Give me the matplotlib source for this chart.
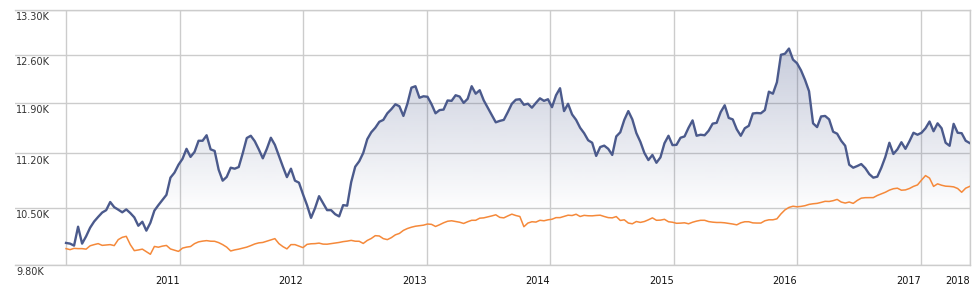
import numpy as np
import pandas as pd
import matplotlib
matplotlib.use("Agg")
import matplotlib.pyplot as plt
from matplotlib.ticker import NullLocator

# fund value (blue) and benchmark (orange)
fund = [10065, 10057, 10033, 10262, 10057, 10145, 10250, 10326, 10383, 10437,
        10467, 10569, 10504, 10473, 10440, 10476, 10431, 10377, 10274, 10323,
        10214, 10310, 10461, 10530, 10595, 10660, 10881, 10946, 11050, 11128,
        11262, 11154, 11221, 11371, 11371, 11446, 11255, 11234, 10985, 10842,
        10890, 11011, 10998, 11020, 11203,
        11408, 11439, 11364, 11254, 11135, 11262, 11412, 11316, 11167, 11024,
        10888, 10998, 10842, 10816, 10667, 10530, 10371, 10492, 10643, 10556,
        10467, 10467, 10417, 10389, 10530, 10523, 10823, 11024, 11096, 11207,
        11392, 11487, 11549, 11631, 11658, 11750, 11808, 11877, 11849, 11713,
        11886, 12115, 12136, 11970, 11991, 11984,
        11879, 11750, 11795, 11802, 11931, 11926, 12006, 11987, 11897, 11955,
        12136, 12028, 12078, 11933, 11829, 11726, 11624, 11644, 11658, 11767,
        11884, 11942, 11949, 11870, 11885, 11829, 11897, 11962, 11926, 11949,
        11836, 12006, 12107, 11781, 11884, 11734, 11658, 11549, 11474, 11378,
        11344, 11167, 11286, 11305, 11262,
        11180, 11430, 11487, 11658, 11781, 11665, 11476, 11357, 11207, 11112,
        11180, 11076, 11148, 11337, 11439, 11312, 11316, 11412, 11430, 11549,
        11651, 11439, 11453, 11446, 11508, 11606, 11617, 11767, 11863, 11685,
        11665, 11528, 11439, 11542, 11576, 11747, 11754, 11750, 11795, 12057,
        12028, 12194, 12600, 12616, 12694,
        12528, 12474, 12368, 12228, 12064, 11610, 11558, 11706, 11713, 11665,
        11494, 11467, 11371, 11303, 11050, 11011, 11033, 11059, 11005, 10927,
        10881, 10894, 11011, 11154, 11344, 11193, 11255, 11351, 11262, 11364,
        11480, 11453, 11480, 11542, 11635, 11501, 11610, 11542, 11344, 11303,
        11603, 11480, 11474, 11371, 11340]

bench = [9997, 9985, 10000, 9997, 9997, 9991, 10031, 10045, 10057, 10036,
         10040, 10045, 10033, 10105, 10133, 10145, 10045, 9973, 9981, 9991,
         9961, 9930, 10023, 10014, 10027, 10035, 9993, 9979, 9964, 10003,
         10015, 10022, 10057, 10078, 10087, 10093, 10086, 10085, 10069, 10045,
         10015, 9969, 9982, 9991, 10003,
         10015, 10033, 10053, 10066, 10071, 10086, 10100, 10117, 10057, 10021,
         9994, 10045, 10045, 10027, 10009, 10048, 10055, 10057, 10063, 10051,
         10050, 10057, 10063, 10071, 10081, 10087, 10096, 10086, 10085, 10059,
         10095, 10119, 10153, 10149, 10117, 10105, 10129, 10163, 10180, 10217,
         10240, 10256, 10268, 10274, 10281, 10295,
         10291, 10265, 10286, 10310, 10329, 10335, 10326, 10317, 10302, 10323,
         10341, 10341, 10367, 10371, 10383, 10395, 10409, 10377, 10371, 10395,
         10417, 10400, 10388, 10262, 10307, 10323, 10319, 10341, 10335, 10347,
         10354, 10374, 10374, 10389, 10404, 10400, 10416, 10388, 10402, 10397,
         10396, 10401, 10404, 10388, 10374,
         10371, 10387, 10339, 10347, 10307, 10298, 10326, 10315, 10326, 10347,
         10371, 10341, 10343, 10353, 10323, 10317, 10304, 10306, 10310, 10298,
         10317, 10331, 10341, 10341, 10325, 10318, 10314, 10314, 10310, 10303,
         10295, 10285, 10310, 10323, 10323, 10309, 10307, 10307, 10335, 10347,
         10347, 10359, 10420, 10470, 10501,
         10516, 10509, 10514, 10523, 10539, 10547, 10552, 10564, 10578, 10576,
         10586, 10602, 10569, 10556, 10569, 10552, 10589, 10618, 10624, 10625,
         10625, 10652, 10673, 10693, 10720, 10738, 10745, 10719, 10723, 10741,
         10768, 10787, 10849, 10908, 10875, 10768, 10801, 10783, 10771, 10768,
         10762, 10741, 10693, 10745, 10768]

start_date = "2010-01-29"
end_date = "2017-05-26"
y_ticks = [9800, 10500, 11200, 11900, 12600, 13300]
y_labels = ["9.80K", "10.50K", "11.20K", "11.90K", "12.60K", "13.30K"]
x_years = [2011, 2012, 2013, 2014, 2015, 2016, 2017]
x_labels = ["2011", "2012", "2013", "2014", "2015", "2016", "2017", "2018"]

dates = pd.date_range(start_date, end_date, periods=len(fund))

W, H = 979, 287
fig = plt.figure(figsize=(W / 100, H / 100), dpi=100)
ax = fig.add_axes([15 / W, 1 - 265.3 / H, (969.7 - 15) / W, (265.3 - 9.5) / H])

ax.set_yscale("log")
ax.set_ylim(y_ticks[0], y_ticks[-1])
ax.set_xlim(dates[0] - pd.Timedelta(days=151), dates[-1])

grid_col = "#cccccc"
for s in ["left"]:
    ax.spines[s].set_visible(False)
for s in ["top", "bottom", "right"]:
    ax.spines[s].set_color(grid_col)
    ax.spines[s].set_linewidth(1)

# horizontal grid + labels sitting just under each line
ax.set_yticks(y_ticks)
ax.set_yticklabels([])
ax.yaxis.set_minor_locator(NullLocator())
ax.tick_params(axis="y", length=0)
for v, lab in zip(y_ticks, y_labels):
    ax.annotate(lab, xy=(0, v), xycoords=("axes fraction", "data"),
                xytext=(1, -1.5), textcoords="offset points",
                ha="left", va="top", fontsize=7, color="#333333",
                annotation_clip=False)

xt = [pd.Timestamp(f"{y}-01-01") for y in x_years] + [dates[-1]]
ax.set_xticks(xt)
ax.set_xticklabels(x_labels, fontsize=7, color="#111111", ha="right")
ax.xaxis.set_minor_locator(NullLocator())
ax.tick_params(axis="x", length=0, pad=8)
ax.grid(True, color=grid_col, lw=1)
ax.set_axisbelow(True)
ax.axvline(dates[0], color=grid_col, lw=1, zorder=0.5)

# gradient area under the fund line
blue = np.array([75, 90, 140]) / 255
n = 256
f = np.linspace(0, 1, n)
alpha = np.clip(0.3 * (f - 0.2) / 0.63, 0, 0.34)
grad = np.zeros((n, 1, 4))
grad[:, 0, :3] = blue
grad[:, 0, 3] = alpha
poly = ax.fill_between(dates, fund, y_ticks[0], facecolor="none", edgecolor="none")
im = ax.imshow(grad, extent=(0, 1, 0, 1), origin="lower", aspect="auto",
               transform=ax.transAxes, zorder=1, interpolation="bilinear")
im.set_clip_path(poly.get_paths()[0], transform=ax.transData)

ax.plot(dates, bench, color="#f5893a", lw=1.1, zorder=3)
ax.plot(dates, fund, color="#4b5a8c", lw=1.7, zorder=4)

fig.savefig("out.png", dpi=100)
